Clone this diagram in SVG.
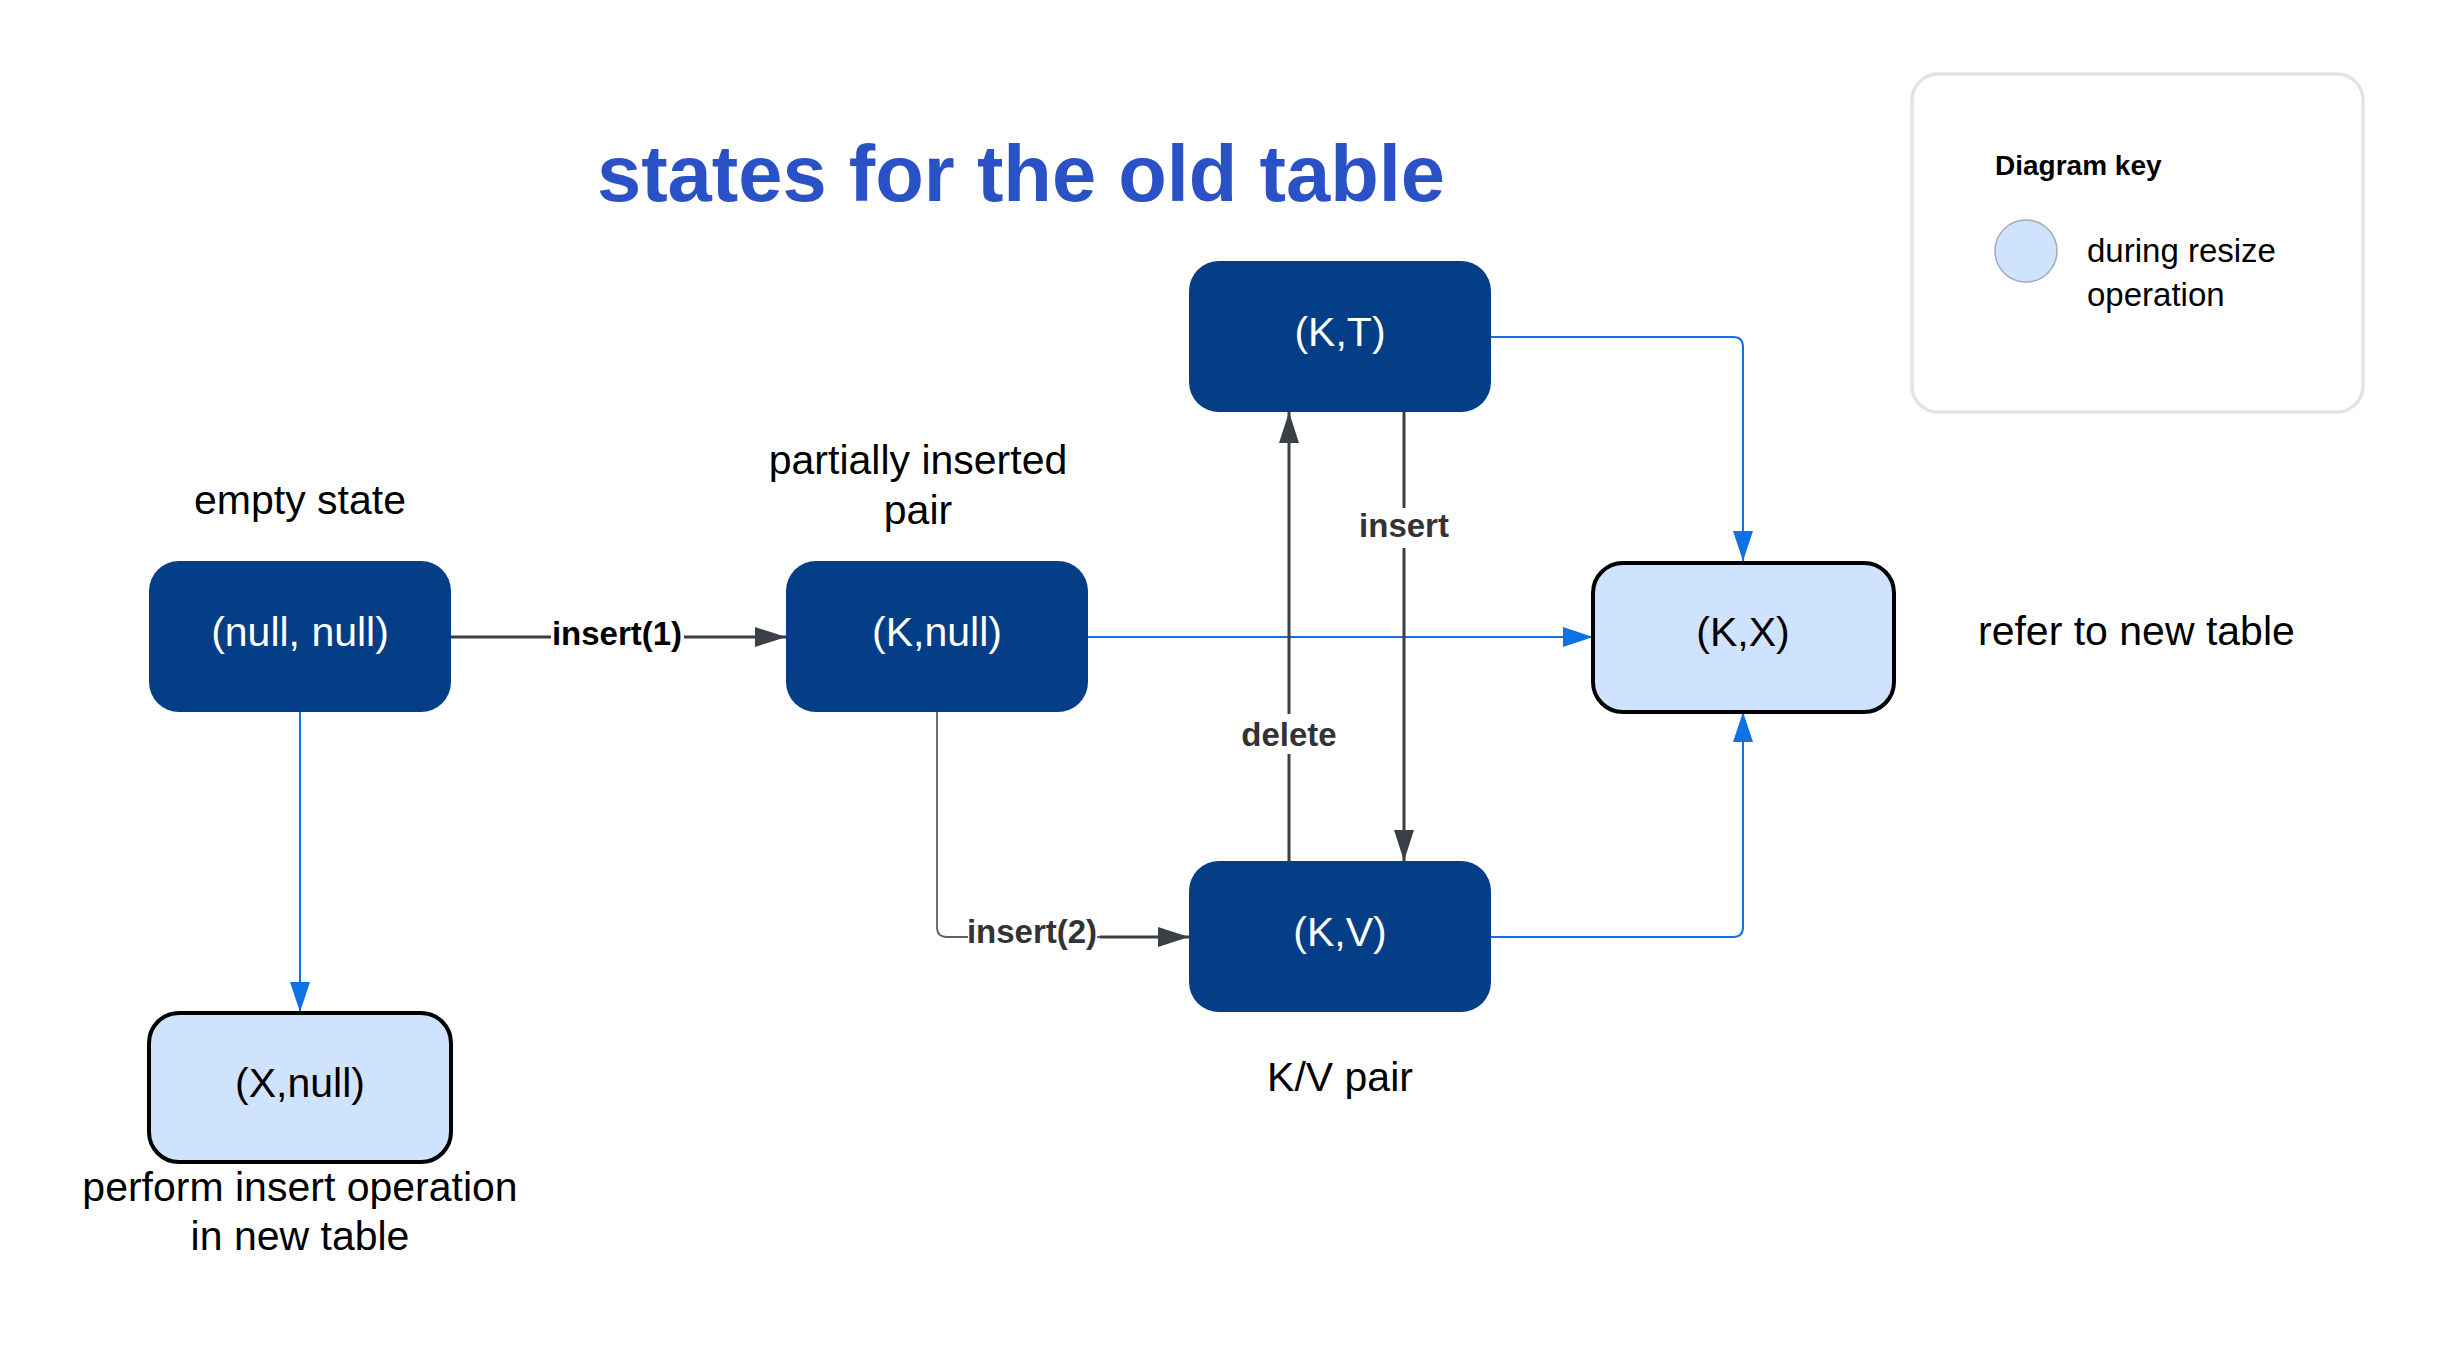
<svg xmlns="http://www.w3.org/2000/svg" width="2438" height="1350" viewBox="0 0 2438 1350">
<style>
.t{font-family:"Liberation Sans",Arial,sans-serif;}
.dark rect{fill:#033e86;}
.dark text{fill:#ffffff;font-size:41px;text-anchor:middle;}
.light rect{fill:#cfe3ff;stroke:#000;stroke-width:4;}
.light text{fill:#000;font-size:41px;text-anchor:middle;}
.cap{fill:#000;font-size:41px;}
.lbl{font-size:33px;font-weight:bold;fill:#333333;text-anchor:middle;}
.gl{fill:none;stroke:#3b3f48;stroke-width:3;}
.gl2{fill:none;stroke:#5b606a;stroke-width:1.8;}
.bl{fill:none;stroke:#1071e5;stroke-width:2;}
</style>
<defs>
<marker id="ag" markerUnits="userSpaceOnUse" markerWidth="31" markerHeight="20" refX="31" refY="10" orient="auto"><path d="M0,0 L31,10 L0,20 z" fill="#3b3f48"/></marker>
<marker id="ab" markerUnits="userSpaceOnUse" markerWidth="30" markerHeight="20" refX="30" refY="10" orient="auto"><path d="M0,0 L30,10 L0,20 z" fill="#1071e5"/></marker>
</defs>
<rect width="2438" height="1350" fill="#ffffff"/>

<text class="t" x="1021" y="201" font-size="79.5" font-weight="bold" fill="#2b51c6" text-anchor="middle">states for the old table</text>

<g id="legend">
<rect x="1912" y="74" width="451" height="338" rx="26" fill="#ffffff" stroke="#e0e3e8" stroke-width="3.5"/>
<text class="t" x="1995" y="175" font-size="28" font-weight="bold" fill="#000">Diagram key</text>
<circle cx="2026" cy="251" r="31" fill="#cfe3ff" stroke="#a3abb6" stroke-width="1.5"/>
<text class="t" x="2087" y="262" font-size="33" fill="#000">during resize</text>
<text class="t" x="2087" y="306" font-size="33" fill="#000">operation</text>
</g>

<g id="connectors">
<path class="gl" d="M451,637 H786" marker-end="url(#ag)"/>
<rect x="551" y="614" width="133" height="38" fill="#fff"/>
<text class="t lbl" x="617" y="645" style="fill:#000">insert(1)</text>

<path class="bl" d="M1088,637 H1593" marker-end="url(#ab)"/>
<path class="bl" d="M300,712 V1012" marker-end="url(#ab)"/>
<path class="bl" d="M1491,337 H1733 Q1743,337 1743,347 V561" marker-end="url(#ab)"/>
<path class="bl" d="M1491,937 H1733 Q1743,937 1743,927 V712" marker-end="url(#ab)"/>

<path class="gl2" d="M937,712 V927 Q937,937 947,937 H1140"/>
<path class="gl" d="M1100,937 H1189" marker-end="url(#ag)"/>
<rect x="968" y="917" width="129" height="38" fill="#fff"/>
<text class="t lbl" x="1032" y="943">insert(2)</text>

<path class="gl" d="M1289,861 V412" marker-end="url(#ag)"/>
<rect x="1240" y="714" width="98" height="40" fill="#fff"/>
<text class="t lbl" x="1289" y="746">delete</text>

<path class="gl" d="M1404,412 V861" marker-end="url(#ag)"/>
<rect x="1352" y="508" width="104" height="40" fill="#fff"/>
<text class="t lbl" x="1404" y="537">insert</text>
</g>

<g id="n_nullnull" class="dark t"><rect x="149" y="561" width="302" height="151" rx="30"/><text x="300" y="646">(null, null)</text></g>
<g id="n_knull" class="dark t"><rect x="786" y="561" width="302" height="151" rx="30"/><text x="937" y="646">(K,null)</text></g>
<g id="n_kt" class="dark t"><rect x="1189" y="261" width="302" height="151" rx="30"/><text x="1340" y="346">(K,T)</text></g>
<g id="n_kv" class="dark t"><rect x="1189" y="861" width="302" height="151" rx="30"/><text x="1340" y="946">(K,V)</text></g>
<g id="n_kx" class="light t"><rect x="1593" y="563" width="301" height="149" rx="30"/><text x="1743" y="646">(K,X)</text></g>
<g id="n_xnull" class="light t"><rect x="149" y="1013" width="302" height="149" rx="30"/><text x="300" y="1097">(X,null)</text></g>

<g id="captions" class="t">
<text class="cap" x="300" y="514" text-anchor="middle">empty state</text>
<text class="cap" x="918" y="474" text-anchor="middle">partially inserted</text>
<text class="cap" x="918" y="524" text-anchor="middle">pair</text>
<text class="cap" x="1340" y="1091" text-anchor="middle">K/V pair</text>
<text class="cap" x="1978" y="645">refer to new table</text>
<text class="cap" x="300" y="1201" text-anchor="middle">perform insert operation</text>
<text class="cap" x="300" y="1250" text-anchor="middle">in new table</text>
</g>
</svg>
